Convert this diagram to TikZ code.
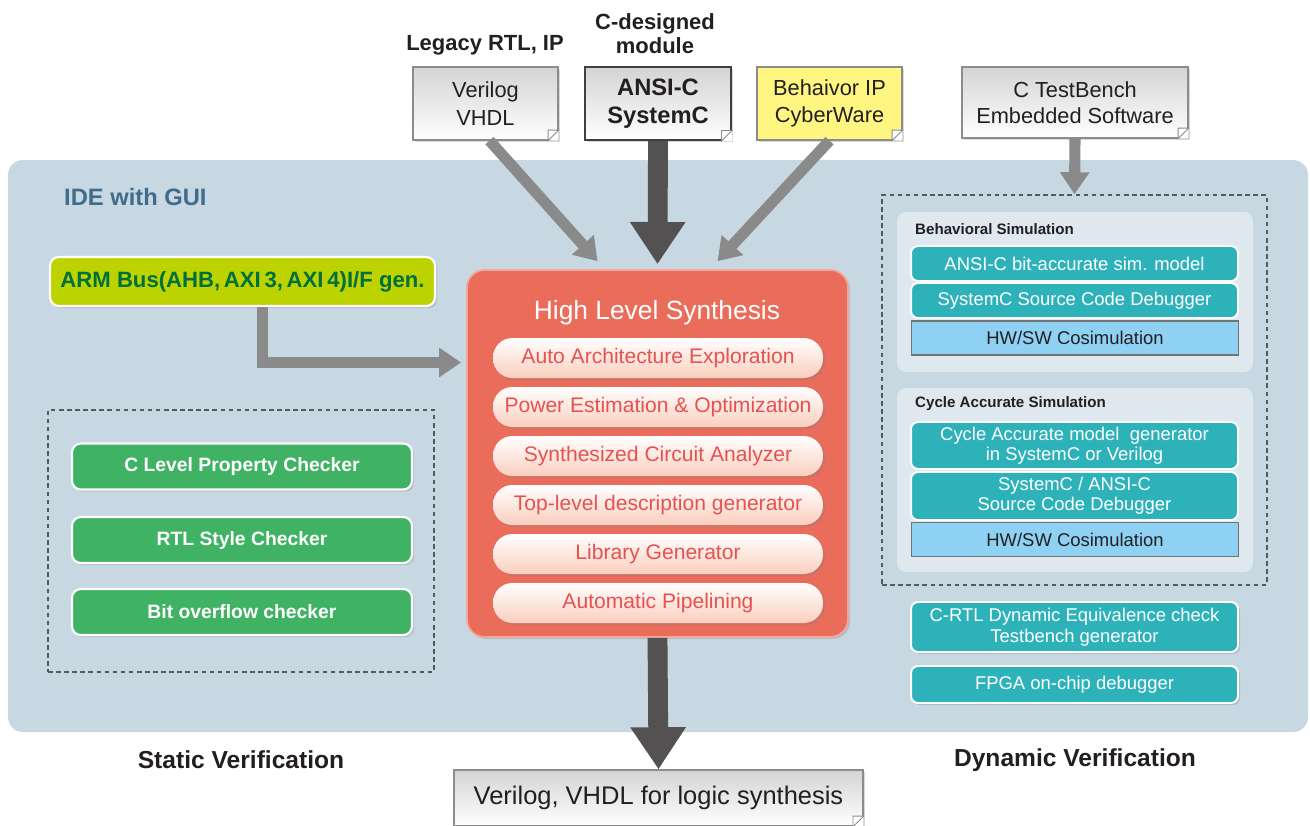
\documentclass[tikz,border=0pt]{standalone}
\usepackage{fontspec}
\setmainfont{Liberation Sans}
\usetikzlibrary{arrows.meta,calc,shadows,positioning}

\definecolor{panelblue}{RGB}{200,216,226}
\definecolor{subpanel}{RGB}{222,232,238}
\definecolor{idetext}{RGB}{62,108,138}
\definecolor{armgreen}{RGB}{188,211,0}
\definecolor{armtext}{RGB}{0,112,62}
\definecolor{hlsred}{RGB}{234,108,90}
\definecolor{pillpink}{RGB}{250,206,190}
\definecolor{pilltext}{RGB}{229,82,80}
\definecolor{chkgreen}{RGB}{63,178,100}
\definecolor{simteal}{RGB}{46,178,186}
\definecolor{cosimblue}{RGB}{142,209,242}
\definecolor{ipyellow}{RGB}{254,246,128}
\definecolor{lightarrow}{RGB}{138,138,138}
\definecolor{darkarrow}{RGB}{84,81,82}
\definecolor{inktext}{RGB}{35,31,32}

\tikzset{
  softshadow/.style={drop shadow={shadow xshift=1.2pt, shadow yshift=-1.2pt, opacity=0.3}},
  docbox/.style={draw=black!45, line width=0.7pt, top color=black!17, bottom color=white,
    align=center, text=inktext, inner sep=0pt, softshadow,
    font=\fontsize{12.4}{15.5}\selectfont},
  toplabel/.style={align=center, text=inktext, font=\fontsize{12.5}{13.8}\selectfont\bfseries},
  fold/.style={fill=white, draw=black!45, line width=0.5pt},
  armbox/.style={fill=armgreen, draw=white, line width=1.2pt, rounded corners=5pt,
    text=armtext, softshadow, font=\fontsize{12.6}{14}\selectfont\bfseries},
  hlsbox/.style={fill=hlsred, draw=hlsred!60!white, line width=1pt, rounded corners=0.35cm,
    softshadow},
  pill/.style={rounded corners=11pt, top color=white, bottom color=pillpink,
    minimum width=6.6cm, minimum height=0.8cm, text=pilltext, softshadow,
    font=\fontsize{12}{14}\selectfont},
  chkbox/.style={fill=chkgreen, draw=white, line width=1.2pt, rounded corners=5pt,
    minimum width=6.8cm, minimum height=0.92cm, text=white, softshadow,
    font=\fontsize{11}{13}\selectfont\bfseries},
  simbox/.style={fill=simteal, draw=white, line width=1.1pt, rounded corners=4pt,
    minimum width=6.54cm, text=white, align=center, inner sep=1pt,
    font=\fontsize{10.5}{11.5}\selectfont},
  cosim/.style={fill=cosimblue, draw=black!55, line width=1pt, minimum width=6.54cm,
    minimum height=0.68cm, text=inktext, font=\fontsize{10.5}{12}\selectfont},
  dashbox/.style={draw=black!65, line width=0.9pt, dash pattern=on 2.6pt off 2pt},
  sublabel/.style={anchor=west, text=inktext, font=\fontsize{8.6}{10}\selectfont\bfseries},
  sectlabel/.style={text=inktext, font=\fontsize{14}{16}\selectfont\bfseries},
  lightarr/.style={draw=lightarrow, line width=6.3pt, -{Triangle[width=16pt,length=12.5pt]}},
  darkarr/.style={draw=darkarrow, line width=11.3pt, -{Triangle[width=30pt,length=24pt]}}
}

\begin{document}
\begin{tikzpicture}[x=0.02cm, y=-0.02cm]
    \useasboundingbox (0,0) rectangle (1310,825);

    % IDE panel
    \fill[panelblue, rounded corners=0.3cm] (8,160) rectangle (1308,732);
    \node[anchor=west, text=idetext, font=\fontsize{13.5}{15}\selectfont\bfseries] (ide) at (58,197) {IDE with GUI};

    % sources
    \node[toplabel] (legacy) at (485,45) {Legacy RTL, IP};
    \node[toplabel] (cdesign) at (655,34) {C-designed\\module};
    \node[docbox, minimum width=2.9cm, minimum height=1.46cm] (verilog) at (485.5,103.5) {Verilog\\VHDL};
    \node[docbox, draw=black!75, line width=1.2pt, minimum width=2.92cm, minimum height=1.46cm,
      font=\fontsize{13.5}{16}\selectfont\bfseries] (ansic) at (658,103.5) {ANSI-C\\SystemC};
    \node[docbox, top color=ipyellow, bottom color=ipyellow, minimum width=2.9cm, minimum height=1.46cm] (behav) at (829.5,103.5) {Behaivor IP\\CyberWare};
    \node[docbox, minimum width=4.52cm, minimum height=1.42cm, font=\fontsize{12.4}{14.5}\selectfont] (ctb) at (1075,102.5) {C TestBench\\Embedded Software};

    % ARM bus generator
    \node[armbox, minimum width=7.7cm, minimum height=0.98cm] (arm) at (242.5,281.5) {ARM Bus(AHB,\,AXI\,3,\,AXI\,4)I/F gen.};

    % High level synthesis
    \node[hlsbox, minimum width=7.62cm, minimum height=7.34cm] (hls) at (657.5,453.5) {};
    \node[text=white, font=\fontsize{15}{17}\selectfont] (hlstitle) at (657,313) {High Level Synthesis};
    \foreach \t [count=\i] in {Auto Architecture Exploration, Power Estimation \& Optimization,
        Synthesized Circuit Analyzer, Top-level description generator, Library Generator,
        Automatic Pipelining}
      \node[pill] (pill\i) at (658,309+49*\i) {\t};

    % Static verification
    \node[dashbox, minimum width=7.72cm, minimum height=5.24cm] (static) at (241,541) {};
    \node[chkbox] (chk1) at (242,466.5) {C Level Property Checker};
    \node[chkbox] (chk2) at (242,540) {RTL Style Checker};
    \node[chkbox] (chk3) at (242,612) {Bit overflow checker};
    \node[sectlabel] (statlabel) at (241,760) {Static Verification};

    % Dynamic verification
    \node[dashbox, minimum width=7.7cm, minimum height=7.8cm] (dyn) at (1074.5,390) {};
    \fill[subpanel, rounded corners=5pt] (897,212) rectangle (1253,372);
    \fill[subpanel, rounded corners=5pt] (897,388) rectangle (1253,572);
    \node[sublabel] (behsim) at (909,229) {Behavioral Simulation};
    \node[simbox, minimum height=0.7cm] (sim1) at (1074.5,263.5) {ANSI-C bit-accurate sim. model};
    \node[simbox, minimum height=0.7cm] (sim2) at (1074.5,300.5) {SystemC Source Code Debugger};
    \node[cosim] (cosim1) at (1075,338) {HW/SW Cosimulation};
    \node[sublabel] (cycsim) at (909,404) {Cycle Accurate Simulation};
    \node[simbox, minimum height=0.94cm] (sim3) at (1074.5,445.5) {Cycle Accurate model\ \ generator\\in SystemC or Verilog};
    \node[simbox, minimum height=0.96cm] (sim4) at (1074.5,496) {SystemC / ANSI-C\\Source Code Debugger};
    \node[cosim] (cosim2) at (1075,539.5) {HW/SW Cosimulation};
    \node[simbox, minimum height=1.0cm, softshadow, font=\fontsize{10.5}{12.2}\selectfont] (sim5) at (1074.5,627) {C-RTL Dynamic Equivalence check\\Testbench generator};
    \node[simbox, minimum height=0.74cm, softshadow] (sim6) at (1074.5,684.5) {FPGA on-chip debugger};
    \node[sectlabel] (dynlabel) at (1075,760) {Dynamic Verification};

    % output
    \node[docbox, minimum width=8.18cm, minimum height=1.12cm, font=\fontsize{14.5}{16}\selectfont] (outrtl) at (658.5,798) {Verilog, VHDL for logic synthesis};

    % folded corners
    \foreach \d in {verilog,ansic,behav,ctb,outrtl} {
      \fill[white] ([xshift=-6pt]\d.south east) -- (\d.south east) -- ([yshift=6pt]\d.south east) -- cycle;
      \filldraw[fold] ([xshift=-6pt]\d.south east) -- ([yshift=6pt]\d.south east) -- ([xshift=-6pt,yshift=6pt]\d.south east) -- cycle;
    }

    % arrows
    \draw[lightarr] ($(verilog.south)+(4,0)$) -- ($(hls.north)+(-60,-8)$);
    \draw[lightarr] (behav.south) -- ($(hls.north)+(60,-8)$);
    \draw[darkarr] (ansic.south) -- ($(hls.north)+(0,-5)$);
    \draw[lightarr] (ctb.south) -- (dyn.north);
    \draw[lightarr] ($(arm.south)+(20,0)$) |- ($(hls.west)+(-5,-91)$);
    \draw[darkarr] (hls.south) -- (outrtl.north);
\end{tikzpicture}
\end{document}
